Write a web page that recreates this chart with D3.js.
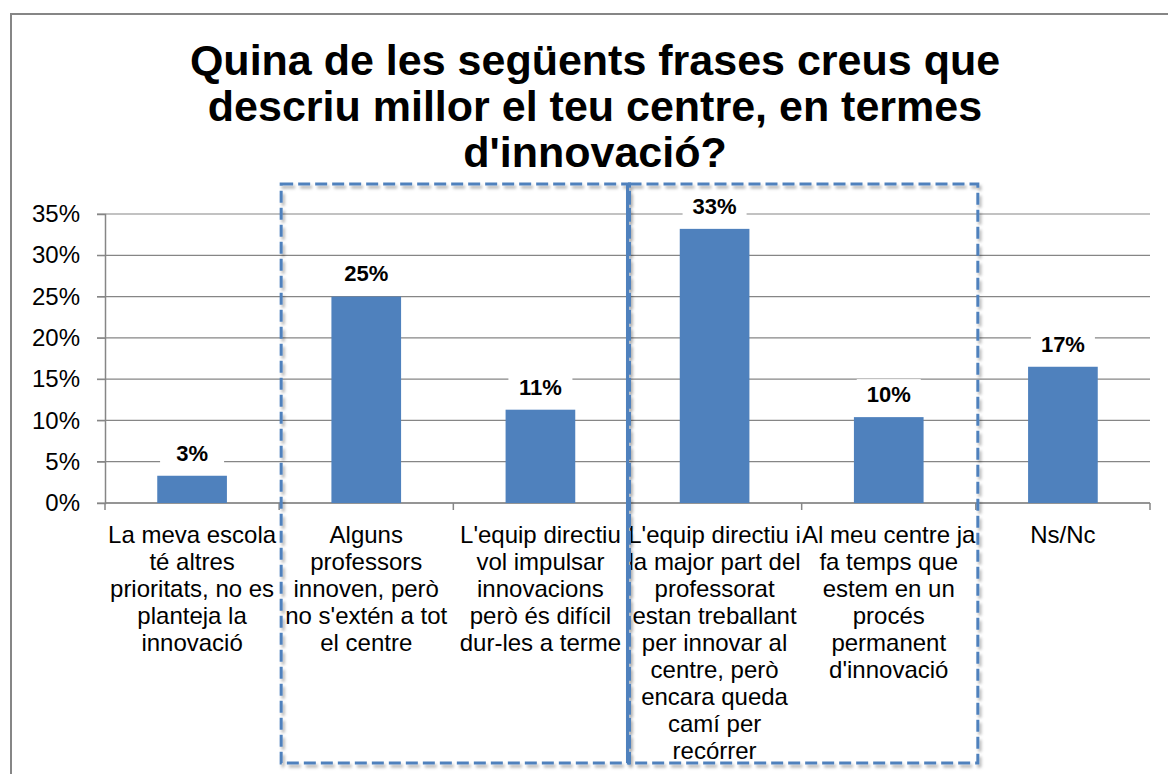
<!DOCTYPE html>
<html>
<head>
<meta charset="utf-8">
<style>
  body { margin: 0; background: #fff; }
  svg { display: block; font-family: Arial, "Liberation Sans", sans-serif; }
</style>
</head>
<body>
<svg width="1168" height="774"></svg>
<script src="https://d3js.org/d3.v7.min.js"></script>
<script>

var categories = ["c1", "c2", "c3", "c4", "c5", "c6"];

var categoryLines = [
    ["La meva escola", "té altres", "prioritats, no es", "planteja la", "innovació"],
    ["Alguns", "professors", "innoven, però", "no s'extén a tot", "el centre"],
    ["L'equip directiu", "vol impulsar", "innovacions", "però és difícil", "dur-les a terme"],
    ["L'equip directiu i", "la major part del", "professorat", "estan treballant", "per innovar al", "centre, però", "encara queda", "camí per", "recórrer"],
    ["Al meu centre ja", "fa temps que", "estem en un", "procés", "permanent", "d'innovació"],
    ["Ns/Nc"]
];

var values = [3.3, 25.0, 11.3, 33.2, 10.4, 16.5];

var yTicks = [0, 5, 10, 15, 20, 25, 30, 35];

var titleLines = ["Quina de les següents frases creus que", "descriu millor el teu centre, en termes", "d'innovació?"];

// groups of categories highlighted with dashed boxes
var highlightGroups = [["c2", "c3"], ["c4", "c5"]];

var svg = d3.select("svg"),
    plotLeft = 105,
    plotRight = 1150,
    plotTop = 214,
    plotBottom = 503,
    blue = "#4f81bd",
    axisGray = "#868686";

var defs = svg.append("defs");
var shadow = defs.append("filter").attr("id", "shadow")
    .attr("x", "-5%").attr("y", "-5%").attr("width", "110%").attr("height", "110%");
shadow.append("feDropShadow")
    .attr("dx", 2).attr("dy", 3).attr("stdDeviation", 1.5)
    .attr("flood-color", "#000").attr("flood-opacity", 0.3);

// outer chart frame (cropped by the page edges)
svg.append("rect")
    .attr("x", 11).attr("y", 14)
    .attr("width", 1300).attr("height", 900)
    .attr("fill", "none")
    .attr("stroke", axisGray)
    .attr("stroke-width", 2);

var x = d3.scaleBand()
    .domain(categories)
    .range([plotLeft, plotRight])
    .paddingInner(0.6)
    .paddingOuter(0.3);

var y = d3.scaleLinear()
    .domain([0, 35])
    .range([plotBottom, plotTop]);

// title
svg.append("text")
    .attr("text-anchor", "middle")
    .attr("font-size", 43)
    .attr("font-weight", "bold")
    .attr("fill", "#000")
    .selectAll("tspan")
    .data(titleLines)
    .enter().append("tspan")
    .attr("x", 595)
    .attr("y", function(d, i) { return 75 + i * 46; })
    .text(function(d) { return d; });

// gridlines
svg.append("g")
    .selectAll("line")
    .data(yTicks)
    .enter().append("line")
    .attr("x1", plotLeft - 8).attr("x2", plotRight)
    .attr("y1", function(d) { return y(d); })
    .attr("y2", function(d) { return y(d); })
    .attr("stroke", axisGray)
    .attr("stroke-width", 1.2);

// y axis
var yAxis = svg.append("g")
    .attr("transform", "translate(" + plotLeft + ",0)")
    .call(d3.axisLeft(y).tickValues(yTicks).tickSize(8).tickPadding(17)
        .tickFormat(function(d) { return d + "%"; }));
yAxis.select(".domain").attr("stroke", axisGray).attr("stroke-width", 1.5);
yAxis.selectAll(".tick line").attr("stroke", axisGray);
yAxis.selectAll(".tick text")
    .attr("font-size", 24)
    .attr("font-family", "Arial, 'Liberation Sans', sans-serif")
    .attr("fill", "#000");

// x axis line with ticks at category boundaries
svg.append("line")
    .attr("x1", plotLeft).attr("x2", plotRight)
    .attr("y1", plotBottom).attr("y2", plotBottom)
    .attr("stroke", axisGray).attr("stroke-width", 1.5);

var step = x.step();
var boundaries = categories.map(function(c) { return x(c) - x.paddingOuter() * step; })
    .concat([plotRight]);
svg.append("g")
    .selectAll("line")
    .data(boundaries)
    .enter().append("line")
    .attr("x1", function(d) { return d; })
    .attr("x2", function(d) { return d; })
    .attr("y1", plotBottom).attr("y2", plotBottom + 7)
    .attr("stroke", axisGray).attr("stroke-width", 1.5);

// bars
svg.append("g")
    .selectAll("rect")
    .data(values)
    .enter().append("rect")
    .attr("x", function(d, i) { return x(categories[i]); })
    .attr("y", function(d) { return y(d); })
    .attr("width", x.bandwidth())
    .attr("height", function(d) { return plotBottom - y(d); })
    .attr("fill", blue);

// value labels with white background
var labels = svg.append("g")
    .selectAll("g")
    .data(values)
    .enter().append("g")
    .attr("transform", function(d, i) {
        return "translate(" + (x(categories[i]) + x.bandwidth() / 2) + "," + (y(d) - 23) + ")";
    });
labels.append("rect")
    .attr("x", -32).attr("y", -15)
    .attr("width", 64).attr("height", 30)
    .attr("fill", "#fff");
labels.append("text")
    .attr("text-anchor", "middle")
    .attr("dy", "0.36em")
    .attr("font-size", 22)
    .attr("font-weight", "bold")
    .text(function(d) { return Math.round(d) + "%"; });

// category labels
svg.append("g")
    .selectAll("text")
    .data(categoryLines)
    .enter().append("text")
    .attr("text-anchor", "middle")
    .attr("font-size", 24)
    .attr("fill", "#000")
    .each(function(lines, i) {
        d3.select(this).selectAll("tspan")
            .data(lines)
            .enter().append("tspan")
            .attr("x", x(categories[i]) + x.bandwidth() / 2)
            .attr("y", function(d, j) { return 543 + j * 27; })
            .text(function(d) { return d; });
    });

// dashed highlight boxes
var boxTop = 184, boxBottom = 763;
var boxes = svg.append("g").attr("filter", "url(#shadow)");
highlightGroups.forEach(function(group) {
    var x0 = x(group[0]) - x.paddingOuter() * step;
    var x1 = x(group[group.length - 1]) + x.bandwidth() + x.paddingOuter() * step;
    boxes.append("rect")
        .attr("x", x0 + 2).attr("y", boxTop)
        .attr("width", x1 - x0).attr("height", boxBottom - boxTop)
        .attr("fill", "none")
        .attr("stroke", blue)
        .attr("stroke-width", 3)
        .attr("stroke-dasharray", "12,5");
});
// shared solid edge between the two boxes
var mid = x(highlightGroups[1][0]) - x.paddingOuter() * step;
boxes.append("line")
    .attr("x1", mid).attr("x2", mid)
    .attr("y1", boxTop).attr("y2", boxBottom)
    .attr("stroke", blue)
    .attr("stroke-width", 3);

</script>
</body>
</html>
